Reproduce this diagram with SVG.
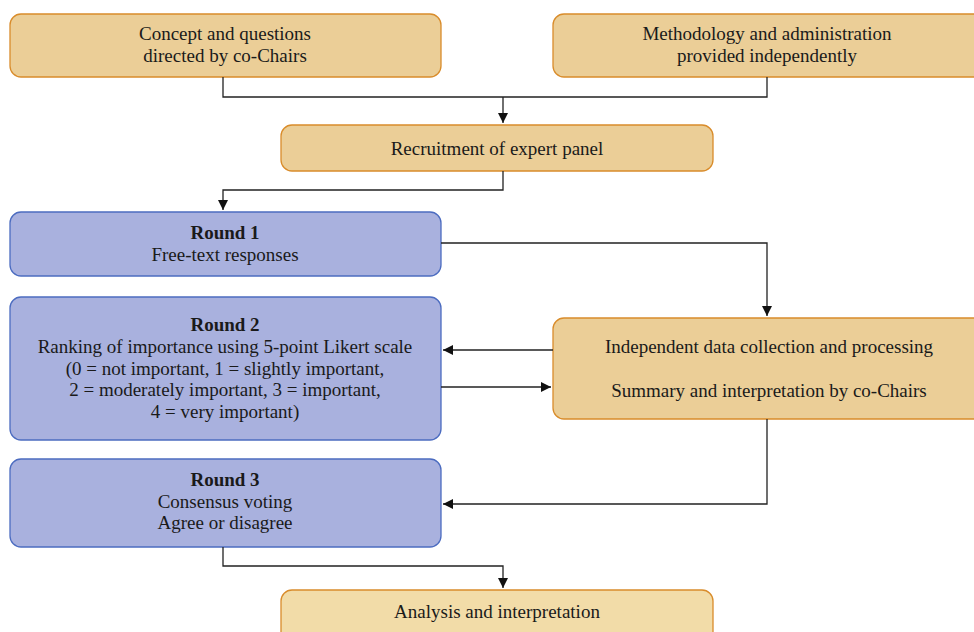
<svg xmlns="http://www.w3.org/2000/svg" width="974" height="632" viewBox="0 0 974 632">
<style>
.o{fill:#EBCE97;stroke:#D98C2B;stroke-width:1.3}
.o2{fill:#F2DCA8;stroke:#D98C2B;stroke-width:1.3}
.b{fill:#A9B1DE;stroke:#4C6CC0;stroke-width:1.3}
text{font-family:'Liberation Serif','Times New Roman','DejaVu Serif',serif;font-size:19px;fill:#1a1a1a;text-anchor:middle}
.bd{font-weight:bold}
.c{fill:none;stroke:#222;stroke-width:1.3}
</style>
<defs>
<marker id="ah" viewBox="0 0 10 10" refX="10" refY="5" markerWidth="10" markerHeight="10" markerUnits="userSpaceOnUse" orient="auto">
<path d="M0,0 L10,5 L0,10 z" fill="#111"/>
</marker>
</defs>
<g id="concept"><rect class="o" x="10" y="14" width="431" height="63" rx="11"/>
<text x="225" y="40">Concept and questions</text><text x="225" y="62">directed by co-Chairs</text></g>
<g id="method"><rect class="o" x="553" y="14" width="440" height="63" rx="11"/>
<text x="767" y="40">Methodology and administration</text><text x="767" y="62">provided independently</text></g>
<g id="recruit"><rect class="o" x="281" y="125" width="432" height="46" rx="11"/>
<text x="497" y="155">Recruitment of expert panel</text></g>
<g id="round1"><rect class="b" x="10" y="212" width="431" height="64" rx="11"/>
<text class="bd" x="225" y="239">Round 1</text><text x="225" y="261">Free-text responses</text></g>
<g id="round2"><rect class="b" x="10" y="297" width="431" height="143" rx="11"/>
<text class="bd" x="225" y="331">Round 2</text>
<text x="225" y="353">Ranking of importance using 5-point Likert scale</text>
<text x="225" y="375">(0 = not important, 1 = slightly important,</text>
<text x="225" y="396">2 = moderately important, 3 = important,</text>
<text x="225" y="418">4 = very important)</text></g>
<g id="processing"><rect class="o" x="553" y="318" width="440" height="101" rx="11"/>
<text x="769" y="353">Independent data collection and processing</text>
<text x="769" y="397">Summary and interpretation by co-Chairs</text></g>
<g id="round3"><rect class="b" x="10" y="459" width="431" height="88" rx="11"/>
<text class="bd" x="225" y="486">Round 3</text><text x="225" y="508">Consensus voting</text><text x="225" y="529">Agree or disagree</text></g>
<g id="analysis"><rect class="o2" x="281" y="590" width="432" height="60" rx="11"/>
<text x="497" y="618">Analysis and interpretation</text></g>
<g id="connectors">
<path class="c" d="M223,77 V97 H767 V77"/>
<path class="c" d="M503,97 V123" marker-end="url(#ah)"/>
<path class="c" d="M503,171 V190 H223 V210" marker-end="url(#ah)"/>
<path class="c" d="M441,243 H767 V316" marker-end="url(#ah)"/>
<path class="c" d="M553,350 H443" marker-end="url(#ah)"/>
<path class="c" d="M441,387 H551" marker-end="url(#ah)"/>
<path class="c" d="M767,419 V504 H443" marker-end="url(#ah)"/>
<path class="c" d="M223,547 V566 H503 V588" marker-end="url(#ah)"/>
</g>
</svg>
